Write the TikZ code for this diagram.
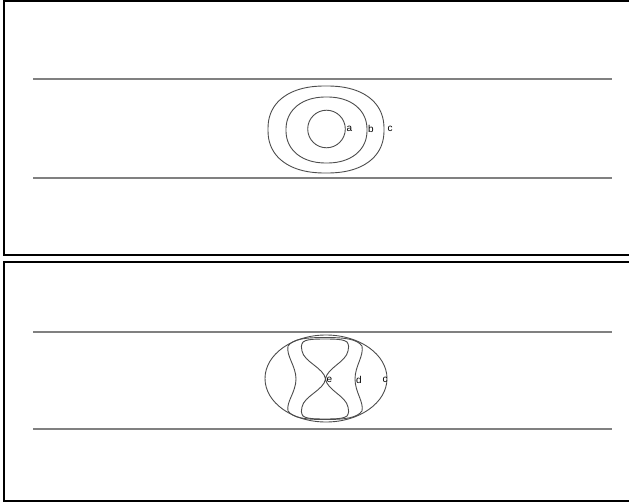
\documentclass[tikz,border=0pt]{standalone}
\usepackage{fontspec}
\setmainfont{Liberation Sans}
\tikzset{
  frameline/.style={black, line width=2bp},
  guideline/.style={black!50, line width=1.2bp},
  ring/.style={black!70, line width=0.9bp},
  tag/.style={font=\fontsize{10}{12}\selectfont, inner sep=0pt}
}
% rounded oval: centre x, centre y, half width, half height, exponent
\newcommand{\roundoval}[5]{plot[domain=0:357, samples=120, smooth cycle] ({#1+#3*sign(cos(\x))*pow(abs(cos(\x))+0.00001,2/#5)}, {#2+#4*sign(sin(\x))*pow(abs(sin(\x))+0.00001,2/#5)})}

\begin{document}
\begin{tikzpicture}[x=1bp,y=-1bp]
\useasboundingbox (0,0) rectangle (629,502);
% upper panel
\draw[frameline] (3.5,1) rectangle (640,255);
\draw[guideline] (33,79) -- (612,79);
\draw[guideline] (33,178) -- (612,178);
\draw[ring] (326.5,129) circle (18.8);
\draw[ring] \roundoval{326.5}{130}{40.5}{33}{2.2};
\draw[ring] \roundoval{326}{129.5}{58}{43.5}{2.3};
\node[tag] (la) at (349.5,128.5) {a};
\node[tag] (lb) at (371,128.5) {b};
\node[tag] (lc) at (390,128.5) {c};
% lower panel
\draw[frameline] (3.5,262) rectangle (640,501);
\draw[guideline] (33,332) -- (612,332);
\draw[guideline] (33,429) -- (612,429);
\draw[ring] (326,378.5) ellipse (61 and 43.5);
% d: wavy sides, domed ends
\draw[ring] (325,337.5) .. controls (345,337.5) and (357,339) .. (362,346)
  .. controls (364,356) and (355,366) .. (355,379) .. controls (355,392) and (364,402) .. (362,411)
  .. controls (357,418) and (345,419.5) .. (325,419.5)
  .. controls (305,419.5) and (293,418) .. (288,411) .. controls (286,402) and (296,392) .. (296,379)
  .. controls (296,366) and (286,356) .. (288,346) .. controls (293,339) and (305,337.5) .. cycle;
% e: hourglass
\draw[ring] (325,339) .. controls (337,339) and (344,339.5) .. (347,342)
  .. controls (349,345) and (349,348) .. (348,351)
  .. controls (346,362) and (327,368) .. (325.5,379) .. controls (327,390) and (346,396) .. (348,407)
  .. controls (349,410) and (349,413) .. (347,416) .. controls (344,418.5) and (337,419) .. (325,419)
  .. controls (313,419) and (306,418.5) .. (303,416) .. controls (301,413) and (301,410) .. (302,407)
  .. controls (304,396) and (324,390) .. (325.5,379)
  .. controls (324,368) and (304,362) .. (302,351) .. controls (301,348) and (301,345) .. (303,342)
  .. controls (306,339.5) and (313,339) .. cycle;
\node[tag] (le) at (329.5,380) {e};
\node[tag] (ld) at (359,380) {d};
\node[tag] (lc2) at (385,380) {c};
\end{tikzpicture}
\end{document}
